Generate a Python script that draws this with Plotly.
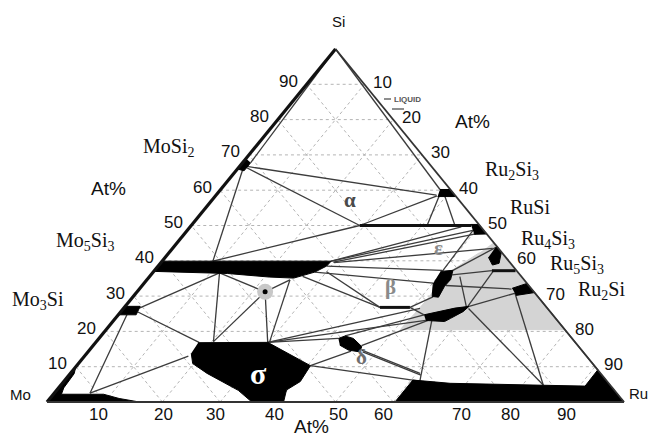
import plotly.graph_objects as go

# ---------------- data (compositions in at.%: Si, Ru ; Mo = 100 - Si - Ru) ----------------
tick_values = [10, 20, 30, 40, 50, 60, 70, 80, 90]
tick_labels = ["10", "20", "30", "40", "50", "60", "70", "80", "90"]
# small horizontal offsets (px) of the printed bottom labels in the original figure
bottom_label_shift = [-6, 1, -5, -3, 3, -10, 11, 2, 0]

corner_names = ["Mo", "Ru", "Si"]

# single-phase (black) regions
phase_MoSi2 = [(69.0, 0.0), (66.0, 0.0), (65.5, 1.4), (67.8, 1.4)]
phase_Ru2Si3 = [(60.2, 38.0), (60.2, 39.8), (58.2, 41.8), (58.2, 38.6)]
phase_RuSi = [(50.3, 48.3), (50.3, 49.7), (47.6, 52.4), (47.5, 50.3)]
phase_Ru4Si3 = [(44.2, 55.8), (42.5, 57.5), (39.3, 58.7), (38.8, 57.8), (41.0, 56.0)]
phase_Ru2Si = [(32.2, 64.5), (33.6, 66.4), (31.0, 69.0), (30.2, 66.2)]
phase_Mo5Si3 = [(39.9, 0.0), (39.9, 29.3), (38.5, 29.2), (36.8, 28.0), (35.1, 25.2),
                (35.4, 20.8), (36.4, 13.1), (37.0, 0.0)]
phase_Mo3Si = [(27.1, 0.0), (27.1, 2.6), (24.7, 3.1), (24.7, 0.0)]
phase_Mo = [(0, 0), (10.0, 0.0), (8.0, 0.7), (4.0, 0.9), (2.2, 1.4), (2.2, 8.7), (1.0, 12.0), (0.0, 16.0)]
phase_sigma = [(16.8, 17.8), (16.9, 29.8), (10.3, 40.5), (5.8, 41.0), (3.4, 39.8), (0.0, 41.0),
               (0.0, 35.5), (3.3, 31.5), (8.1, 23.7), (10.9, 19.8), (13.8, 18.1)]
phase_delta = [(18.0, 41.5), (18.7, 42.3), (18.0, 44.1), (15.7, 46.7), (14.2, 47.1), (14.7, 44.9), (16.1, 42.7)]
phase_Ru = [(0.0, 60.3), (6.2, 60.3), (6.0, 62.0), (5.3, 67.2), (4.5, 91.0), (9.1, 90.9), (0.0, 100.0)]
phase_T1 = [(37.0, 49.7), (37.3, 51.7), (34.7, 52.6), (32.8, 52.5), (29.7, 53.0), (29.9, 51.8), (33.7, 50.1)]
phase_T2 = [(24.7, 53.0), (26.6, 57.4), (27.1, 59.6), (25.6, 59.3), (23.7, 58.1), (22.8, 57.5), (23.1, 54.1)]
black_phases = [phase_MoSi2, phase_Ru2Si3, phase_RuSi, phase_Ru4Si3, phase_Ru2Si, phase_Mo5Si3,
                phase_Mo3Si, phase_Mo, phase_sigma, phase_delta, phase_Ru, phase_T1, phase_T2]

# shaded (grey) region
grey_region = [(45.2, 54.8), (20.5, 79.5), (20.5, 51.0), (22.0, 51.0), (25.0, 51.2), (30.0, 51.4),
               (35.0, 50.5), (38.5, 52.0), (42.3, 53.8)]

# thick boundary segments
thick_segments = [((50.0, 29.2), (50.0, 48.5)),      # Si 50 line
                  ((37.2, 58.5), (37.2, 62.6)),      # Ru5Si3
                  ((26.8, 44.3), (26.8, 49.5))]      # short segment

# tie lines
tie_lines = [
    ((100.0, 0.0), (60.2, 38.0)), ((100.0, 0.0), (67.8, 1.4)),
    ((66.8, 1.0), (58.6, 38.2)), ((66.5, 1.2), (50.0, 29.2)), ((66.5, 0.8), (39.9, 8.8)),
    ((39.9, 8.8), (50.0, 29.2)), ((50.0, 29.2), (58.4, 38.4)), ((58.3, 39.8), (50.0, 45.7)),
    ((58.3, 38.8), (49.9, 40.9)),
    ((39.9, 29.3), (49.6, 47.0)), ((39.9, 29.3), (48.6, 49.5)), ((39.6, 29.8), (47.6, 50.5)),
    ((39.5, 30.0), (43.5, 55.5)), ((38.5, 29.2), (37.3, 49.8)), ((36.8, 28.0), (33.7, 50.1)),
    ((35.6, 26.5), (26.8, 44.3)), ((37.3, 51.7), (43.8, 55.9)), ((37.0, 50.0), (49.0, 49.5)),
    ((36.0, 52.2), (37.2, 58.5)), ((33.0, 52.6), (32.0, 64.5)), ((27.1, 59.6), (31.0, 66.0)),
    ((27.0, 59.4), (37.2, 58.8)), ((35.5, 53.8), (26.8, 59.3)), ((30.8, 65.7), (4.8, 83.6)),
    ((26.5, 59.8), (4.8, 83.6)), ((23.2, 55.1), (5.8, 61.7)), ((31.2, 68.8), (9.0, 91.0)),
    ((26.8, 49.5), (29.8, 52.0)), ((26.8, 49.5), (24.7, 53.0)),
    ((2.5, 6.2), (24.7, 1.5)), ((2.5, 6.2), (13.0, 18.0)), ((26.6, 2.7), (36.6, 11.6)),
    ((25.5, 3.0), (16.9, 17.9)), ((36.6, 11.6), (17.1, 20.3)), ((36.6, 11.6), (31.2, 22.2)),
    ((31.2, 22.2), (17.1, 20.3)), ((31.2, 22.2), (16.9, 29.8)), ((31.2, 22.2), (34.6, 24.8)),
    ((34.6, 24.8), (16.9, 30.1)), ((36.9, 30.0), (26.8, 44.3)),
    ((16.9, 29.8), (18.0, 41.5)), ((16.9, 29.8), (26.5, 51.4)), ((16.9, 29.8), (23.1, 54.1)),
    ((10.3, 40.5), (6.0, 61.3)), ((10.3, 40.5), (14.4, 45.5)),
    ((14.7, 47.2), (8.1, 60.6)), ((14.2, 47.6), (7.6, 61.0)),
    ((18.7, 42.3), (24.7, 53.0)), ((16.0, 46.5), (23.1, 54.5)),
]

# phase field labels (Si, Ru)
greek_text = ["α", "ε", "β", "δ"]
greek_si = [57.2, 43.5, 32.7, 12.8]
greek_ru = [23.9, 46.1, 43.1, 48.1]
greek_colors = ["#4a4a4a", "#8a8a8a", "#8a8a8a", "#6e6e6e"]
sigma_pos = (8.1, 32.6)
dot_pos = (31.2, 22.2)

compound_text = ["MoSi<sub>2</sub>", "Mo<sub>5</sub>Si<sub>3</sub>", "Mo<sub>3</sub>Si",
                 "Ru<sub>2</sub>Si<sub>3</sub>", "RuSi", "Ru<sub>4</sub>Si<sub>3</sub>",
                 "Ru<sub>5</sub>Si<sub>3</sub>", "Ru<sub>2</sub>Si"]
compound_px = [(168, 147), (85, 241), (38, 300), (512, 170), (530, 207), (548, 239), (577, 264), (601, 290)]

# --------------------------------------------------------------------------------------------
def xy(si, ru):
    return ru + si / 2.0, si

X0, X1 = -8.146, 104.33
Y0, Y1 = -9.63, 113.88
W, H = 649, 436

def px2data(px, py):
    return X0 + px / W * (X1 - X0), Y1 - py / H * (Y1 - Y0)

fig = go.Figure()

def add_line(pts, color, width, dash="solid"):
    xs, ys = [], []
    for p in pts:
        if p is None:
            xs.append(None); ys.append(None)
        else:
            x, y = xy(*p); xs.append(x); ys.append(y)
    fig.add_trace(go.Scatter(x=xs, y=ys, mode="lines", line=dict(color=color, width=width, dash=dash),
                             hoverinfo="skip", showlegend=False))

# grid
grid_pts = []
for v in tick_values:
    grid_pts += [(v, 0), (v, 100 - v), None]
    grid_pts += [(0, v), (100 - v, v), None]
    grid_pts += [(0, 100 - v), (100 - v, 0), None]
add_line(grid_pts, "#b4b4b4", 1, "dot")

# grey region
gx, gy = zip(*[xy(*p) for p in grey_region])
fig.add_trace(go.Scatter(x=list(gx), y=list(gy), fill="toself", fillcolor="#d4d4d4", mode="lines",
                         line=dict(color="#d4d4d4", width=1), hoverinfo="skip", showlegend=False))

# tie lines
tl = []
for a, b in tie_lines:
    tl += [a, b, None]
add_line(tl, "#3c3c3c", 1.3)

# thick segments
ts = []
for a, b in thick_segments:
    ts += [a, b, None]
add_line(ts, "#111111", 3)

# black phases
for poly in black_phases:
    px, py = zip(*[xy(*p) for p in poly])
    fig.add_trace(go.Scatter(x=list(px), y=list(py), fill="toself", fillcolor="black", mode="lines",
                             line=dict(color="black", width=1), hoverinfo="skip", showlegend=False))

# triangle
add_line([(0, 0), (100, 0)], "#111111", 3.2)
add_line([(0, 0), (0, 100)], "#333333", 2)
add_line([(0, 100), (100, 0)], "#333333", 1.8)

# special point
dx, dy = xy(*dot_pos)
fig.add_trace(go.Scatter(x=[dx], y=[dy], mode="markers", marker=dict(size=16, color="#c8c8c8"),
                         hoverinfo="skip", showlegend=False))
fig.add_trace(go.Scatter(x=[dx], y=[dy], mode="markers", marker=dict(size=5, color="black"),
                         hoverinfo="skip", showlegend=False))

ann = []
sans = "Liberation Sans"
serif = "Liberation Serif"
# tick labels
for v, t, bs in zip(tick_values, tick_labels, bottom_label_shift):
    x, y = xy(v, 0)      # left edge: Si
    ann.append(dict(x=x, y=y, text=t, xshift=-18, yshift=3, showarrow=False,
                    font=dict(family=sans, size=17, color="#111")))
    x, y = xy(100 - v, v)  # right edge: Ru
    ann.append(dict(x=x, y=y, text=t, xshift=18, yshift=2, showarrow=False,
                    font=dict(family=sans, size=17, color="#111")))
    x, y = xy(0, v)      # bottom: Ru
    ann.append(dict(x=x, y=y, text=t, xshift=bs, yshift=-12, showarrow=False,
                    font=dict(family=sans, size=17, color="#111")))
# corner labels
corner_px = [(20, 394), (638, 393), (338, 21)]
for n, (pxl, pyl) in zip(corner_names, corner_px):
    x, y = px2data(pxl, pyl)
    ann.append(dict(x=x, y=y, text=n, showarrow=False,
                    font=dict(family=sans, size=15, color="#111")))
# At% labels
for (pxl, pyl) in [(108, 188), (472, 121), (311, 426)]:
    x, y = px2data(pxl, pyl)
    ann.append(dict(x=x, y=y, text="At%", showarrow=False,
                    font=dict(family=sans, size=19, color="#111")))
# compound labels
for t, (pxl, pyl) in zip(compound_text, compound_px):
    x, y = px2data(pxl, pyl)
    ann.append(dict(x=x, y=y, text=t, showarrow=False,
                    font=dict(family=serif, size=20, color="#111")))
# greek labels
for t, s, r, c in zip(greek_text, greek_si, greek_ru, greek_colors):
    x, y = xy(s, r)
    ann.append(dict(x=x, y=y, text="<b>" + t + "</b>", showarrow=False,
                    font=dict(family=serif, size=21, color=c)))
x, y = xy(*sigma_pos)
ann.append(dict(x=x, y=y, text="<b>σ</b>", showarrow=False, font=dict(family=serif, size=30, color="white")))
# liquid
x, y = px2data(407, 99)
ann.append(dict(x=x, y=y, text="<b>LIQUID</b>", showarrow=False, font=dict(family=sans, size=8, color="#555")))

shapes = [
    dict(type="line", xref="paper", yref="paper", x0=384 / W, x1=391 / W, y0=1 - 99 / H, y1=1 - 99 / H,
         line=dict(color="#444", width=1.2)),
    dict(type="line", xref="paper", yref="paper", x0=392 / W, x1=404 / W, y0=1 - 109 / H, y1=1 - 109 / H,
         line=dict(color="#444", width=1.2)),
]

fig.update_layout(
    width=W, height=H, margin=dict(l=0, r=0, t=0, b=0),
    paper_bgcolor="white", plot_bgcolor="white",
    xaxis=dict(range=[X0, X1], visible=False, fixedrange=True),
    yaxis=dict(range=[Y0, Y1], visible=False, fixedrange=True),
    annotations=ann, shapes=shapes, showlegend=False,
)
fig.write_html("out.html", config={"displayModeBar": False, "staticPlot": True},
               post_script="document.body.style.margin='0';document.body.style.overflow='hidden';")
